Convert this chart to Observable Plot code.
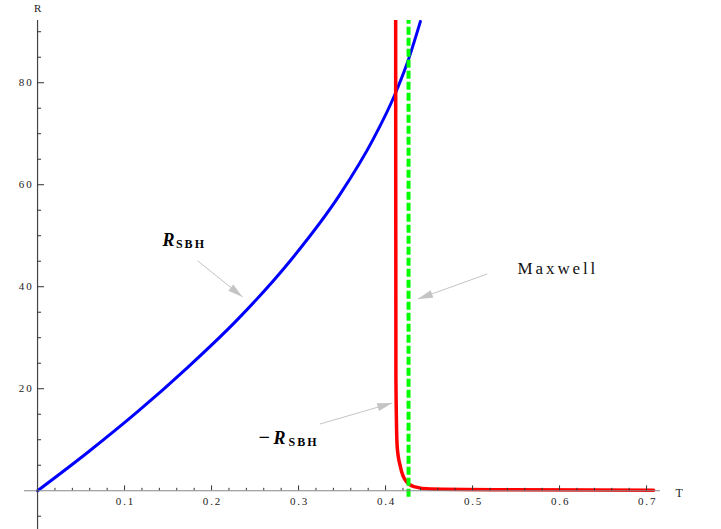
<!DOCTYPE html>
<html><head><meta charset="utf-8">
<script src="https://cdn.jsdelivr.net/npm/d3@7"></script>
<script src="https://cdn.jsdelivr.net/npm/@observablehq/plot@0.6"></script>
<style>
html,body{margin:0;padding:0;background:#fff;}
#chart svg text{letter-spacing:0.17em;}
</style></head><body><div id="chart"></div>
<script>
// R_SBH curve (blue)
const blueT = [0, 0.0575, 0.115, 0.172, 0.230, 0.291, 0.348, 0.386, 0.410, 0.425, 0.440];
const blueR = [0, 7.5, 15.5, 24.1, 33.6, 45.2, 58.2, 69.0, 77.4, 83.9, 92.0];
// -R_SBH curve (red)
const redT = [0.4116, 0.4117, 0.4119, 0.4134, 0.4172, 0.4230, 0.4325, 0.4517, 0.532, 0.708];
const redR = [92.5, 60, 21.6, 8.5, 4.6, 2.0, 0.8, 0.33, 0.2, 0.12];
// Maxwell line (green dashed)
const maxwellT = [0.4264];
const maxwellR = [-1.3, 92.5];
// ticks
const xMajor = [0.1, 0.2, 0.3, 0.4, 0.5, 0.6, 0.7];
const xTickLabels = ["0.1", "0.2", "0.3", "0.4", "0.5", "0.6", "0.7"];
const yMajor = [20, 40, 60, 80];
const yTickLabels = ["20", "40", "60", "80"];
const xMinor = d3.range(1, 36).filter(i => i % 5 !== 0).map(i => i * 0.02);
const yMinor = [-5, 5, 10, 15, 25, 30, 35, 45, 50, 55, 65, 70, 75, 85, 90];
// annotations
const arrowStartT = [0.1839, 0.3245, 0.5169];
const arrowStartR = [45.1, 13.08, 42.5];
const arrowTipT = [0.2356, 0.4077, 0.4371];
const arrowTipR = [38.0, 17.2, 37.6];

const W = 721, H = 529;
const mL = 24, mR = 61, mT = 20, mB = 0;
const xDom = [-0.015, 0.716], yDom = [-7.6, 92.2];
const kx = (W - mL - mR) / (xDom[1] - xDom[0]);
const ky = (H - mT - mB) / (yDom[1] - yDom[0]);

const blue = blueT.map((t, i) => ({T: t, R: blueR[i]}));
const red = redT.map((t, i) => ({T: t, R: redR[i]}));
const arrows = arrowStartT.map((t, i) => ({
  x1: t, y1: arrowStartR[i], x2: arrowTipT[i], y2: arrowTipR[i],
  rot: Math.atan2((arrowTipT[i] - t) * kx, (arrowTipR[i] - arrowStartR[i]) * ky) * 180 / Math.PI
}));

const serif = "'Liberation Serif', 'Times New Roman', serif";
const arrowGray = "#c4c4c4";
const lbl = {textAnchor: "start", lineAnchor: "bottom", fontFamily: serif, fill: "#000", text: d => d};

const plot = Plot.plot({
  width: W, height: H,
  marginLeft: mL, marginRight: mR, marginTop: mT, marginBottom: mB,
  x: {domain: xDom, axis: null},
  y: {domain: yDom, axis: null},
  style: {background: "#fff", overflow: "visible", fontFamily: serif},
  marks: [
    // curves
    Plot.line(blue, {x: "T", y: "R", stroke: "#0000ff", strokeWidth: 3, curve: "monotone-x", clip: true}),
    Plot.line(red, {x: "T", y: "R", stroke: "#ff0000", strokeWidth: 3.5, curve: "monotone-x", clip: true}),
    Plot.ruleX(maxwellT, {y1: maxwellR[0], y2: maxwellR[1], stroke: "#00ff00", strokeWidth: 4, strokeDasharray: "8,3", clip: true}),
    // axes
    Plot.ruleY([0], {x1: xDom[0], x2: xDom[1], stroke: "#888", strokeWidth: 1.2}),
    Plot.ruleX([0], {y1: yDom[0], y2: yDom[1], stroke: "#444", strokeWidth: 1.2}),
    Plot.ruleX(xMajor, {y1: 0, y2: 0.95, stroke: "#333", strokeWidth: 1}),
    Plot.ruleX(xMinor, {y1: 0, y2: 0.47, stroke: "#333", strokeWidth: 1}),
    Plot.ruleY(yMajor, {x1: 0, x2: 7 / kx, stroke: "#333", strokeWidth: 1}),
    Plot.ruleY(yMinor, {x1: 0, x2: 4 / kx, stroke: "#333", strokeWidth: 1}),
    Plot.text(xTickLabels, {x: (d, i) => xMajor[i], y: 0, text: d => d, dy: 11, dx: 1, fontSize: 11, fontFamily: serif, fill: "#222"}),
    Plot.text(yTickLabels, {x: 0, y: (d, i) => yMajor[i], text: d => d, dx: -4, textAnchor: "end", fontSize: 11, fontFamily: serif, fill: "#222"}),
    Plot.text(["R"], {x: 0, y: 92.2, text: d => d, dy: -12, dx: 1, fontSize: 11, fontFamily: serif, fill: "#222"}),
    Plot.text(["T"], {x: 0.7333, y: 0, text: d => d, dy: 2, textAnchor: "start", fontSize: 12, fontFamily: serif, fill: "#222"}),
    // arrows
    Plot.link(arrows, {x1: "x1", y1: "y1", x2: "x2", y2: "y2", stroke: arrowGray, strokeWidth: 1}),
    Plot.vector(arrows, {x: "x2", y: "y2", rotate: "rot", length: 15, r: 4, shape: "spike", anchor: "end", fill: arrowGray, stroke: "none"}),
    // labels
    Plot.text(["R"], {...lbl, x: 0.1437, y: 48.0, fontSize: 18, fontStyle: "italic", fontWeight: "bold"}),
    Plot.text(["SBH"], {...lbl, x: 0.1590, y: 47.6, fontSize: 12, fontWeight: "bold"}),
    Plot.text(["\u2212"], {...lbl, x: 0.254, y: 9.16, fontSize: 20, fontWeight: "bold"}),
    Plot.text(["R"], {...lbl, x: 0.2713, y: 9.16, fontSize: 18, fontStyle: "italic", fontWeight: "bold"}),
    Plot.text(["SBH"], {...lbl, x: 0.2885, y: 8.8, fontSize: 12, fontWeight: "bold"}),
    Plot.text(["Maxwell"], {...lbl, x: 0.5517, y: 42.5, fontSize: 17, fill: "#111"})
  ]
});
document.getElementById("chart").appendChild(plot);
</script>
</body></html>
